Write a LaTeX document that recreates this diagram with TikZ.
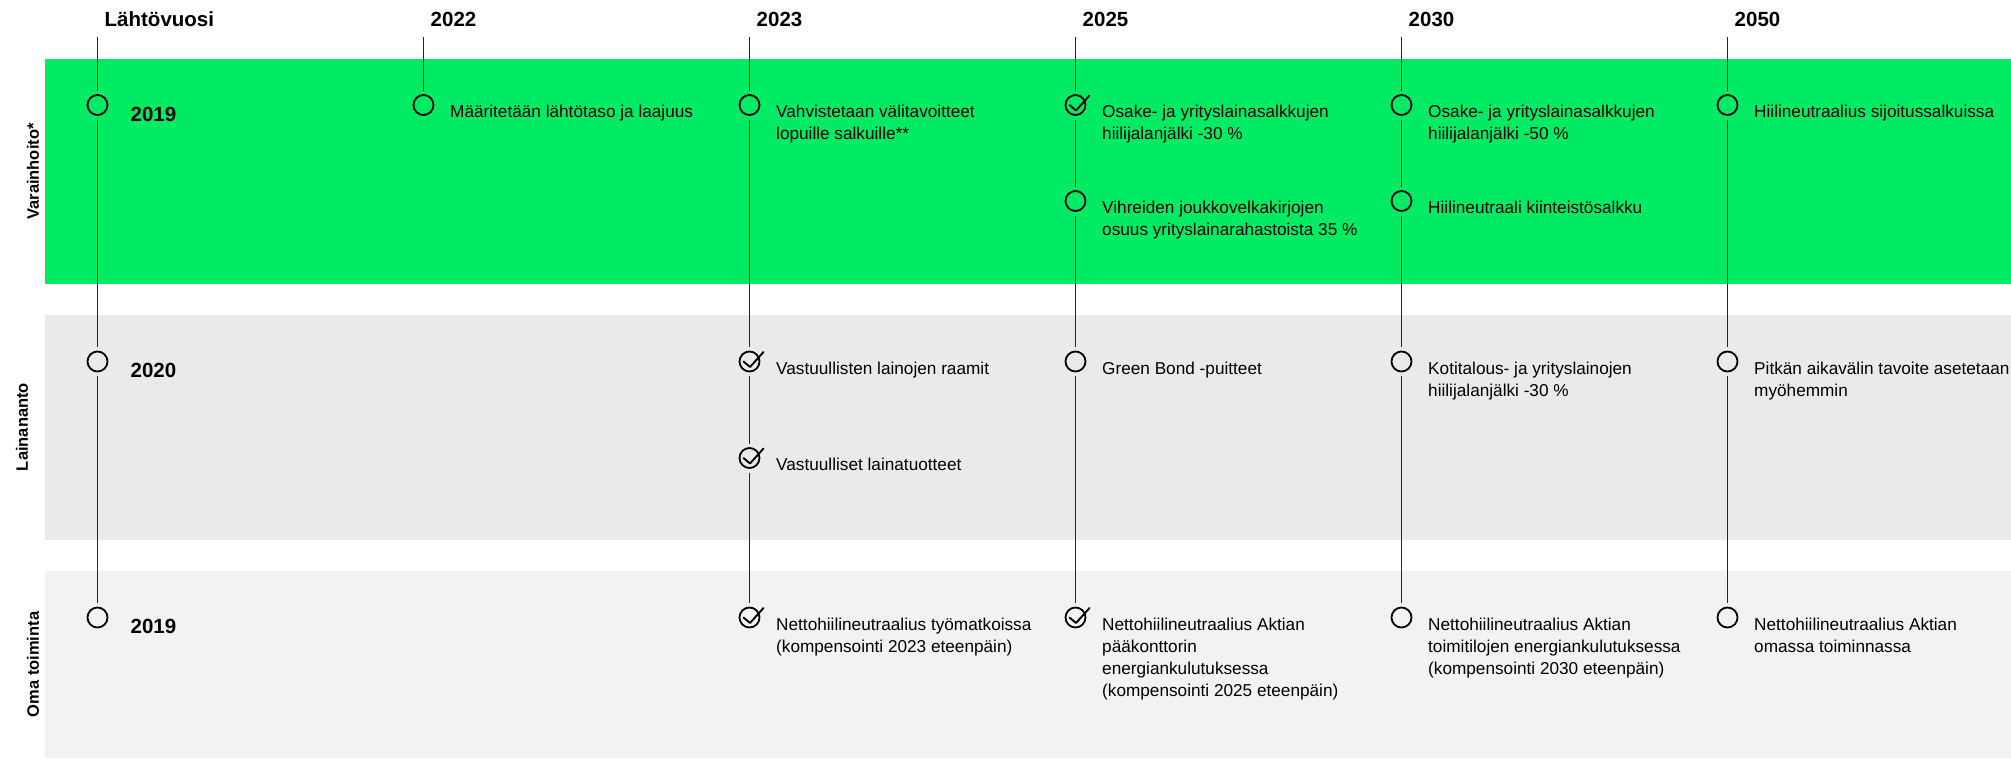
\documentclass[tikz,border=0pt]{standalone}
\usepackage{fontspec}
\setmainfont{Liberation Sans}
\usetikzlibrary{positioning}
\definecolor{varagreen}{RGB}{0,235,100}
\definecolor{lainagray}{RGB}{234,234,234}
\definecolor{omagray}{RGB}{242,242,242}
\newcommand{\goaltext}[1]{\begin{tabular}[t]{@{}l@{}}#1\end{tabular}}

\begin{document}
\begin{tikzpicture}[x=1pt,y=-1pt,
  dot/.style={circle,draw,line width=1.8pt,minimum size=20pt,inner sep=0pt,outer sep=4.5pt},
  tick/.style={line width=1.9pt,line cap=round,line join=round},
  link/.style={line width=1.2pt,black!85},
  txt/.style={anchor=base west,inner sep=0pt,font=\fontsize{17.2}{22}\selectfont},
  year/.style={anchor=base west,inner sep=0pt,font=\fontsize{20.5}{24}\selectfont\bfseries},
  side/.style={rotate=90,inner sep=0pt,font=\fontsize{16.5}{20}\selectfont\bfseries}]
  \useasboundingbox (0,0) rectangle (2011,758);
  % bands
  \fill[varagreen] (45,59) rectangle (2011,283.5);
  \fill[lainagray] (45,315) rectangle (2011,539.5);
  \fill[omagray] (45,571) rectangle (2011,758);
  \node[side] (sideV) at (33,171.5) {Varainhoito*};
  \node[side] (sideL) at (22,427) {Lainananto};
  \node[side] (sideO) at (33,664.5) {Oma toiminta};
  % column heads
  \foreach \x/\lbl [count=\i from 0] in {97.5/Lähtövuosi,423.5/2022,749.5/2023,
      1075.5/2025,1401.5/2030,1727.5/2050}{
    \coordinate (top\i) at (\x,37.3);
    \node[year] (head\i) at (\x+7,26.7) {\lbl};
  }
  % Lähtövuosi
  \node[dot] (a1) at (97.5,105) {};
  \node[dot] (a3) at (97.5,361.5) {};
  \node[dot] (a5) at (97.5,617.5) {};
  \node[year] (ta1) at ([shift={(33,16)}]a1.center) {2019};
  \node[year] (ta3) at ([shift={(33,16)}]a3.center) {2020};
  \node[year] (ta5) at ([shift={(33,16)}]a5.center) {2019};
  % 2022
  \node[dot] (b1) at (423.5,105) {};
  \node[txt] (tb1) at ([shift={(26.5,12.5)}]b1.center) {Määritetään lähtötaso ja laajuus};
  % 2023
  \node[dot] (c1) at (749.5,105) {};
  \node[dot] (c3) at (749.5,361.5) {};
  \node[dot] (c4) at (749.5,458) {};
  \node[dot] (c5) at (749.5,617.5) {};
  \node[txt] (tc1) at ([shift={(26.5,12.5)}]c1.center) {\goaltext{Vahvistetaan välitavoitteet\\lopuille salkuille**}};
  \node[txt] (tc3) at ([shift={(26.5,12.5)}]c3.center) {Vastuullisten lainojen raamit};
  \node[txt] (tc4) at ([shift={(26.5,12.5)}]c4.center) {Vastuulliset lainatuotteet};
  \node[txt] (tc5) at ([shift={(26.5,12.5)}]c5.center) {\goaltext{Nettohiilineutraalius työmatkoissa\\(kompensointi 2023 eteenpäin)}};
  % 2025
  \node[dot] (d1) at (1075.5,105) {};
  \node[dot] (d2) at (1075.5,201) {};
  \node[dot] (d3) at (1075.5,361.5) {};
  \node[dot] (d5) at (1075.5,617.5) {};
  \node[txt] (td1) at ([shift={(26.5,12.5)}]d1.center) {\goaltext{Osake- ja yrityslainasalkkujen\\hiilijalanjälki -30~\%}};
  \node[txt] (td2) at ([shift={(26.5,12.5)}]d2.center) {\goaltext{Vihreiden joukkovelkakirjojen\\osuus yrityslainarahastoista 35~\%}};
  \node[txt] (td3) at ([shift={(26.5,12.5)}]d3.center) {Green Bond -puitteet};
  \node[txt] (td5) at ([shift={(26.5,12.5)}]d5.center) {\goaltext{Nettohiilineutraalius Aktian\\pääkonttorin\\energiankulutuksessa\\(kompensointi 2025 eteenpäin)}};
  % 2030
  \node[dot] (e1) at (1401.5,105) {};
  \node[dot] (e2) at (1401.5,201) {};
  \node[dot] (e3) at (1401.5,361.5) {};
  \node[dot] (e5) at (1401.5,617.5) {};
  \node[txt] (te1) at ([shift={(26.5,12.5)}]e1.center) {\goaltext{Osake- ja yrityslainasalkkujen\\hiilijalanjälki -50~\%}};
  \node[txt] (te2) at ([shift={(26.5,12.5)}]e2.center) {Hiilineutraali kiinteistösalkku};
  \node[txt] (te3) at ([shift={(26.5,12.5)}]e3.center) {\goaltext{Kotitalous- ja yrityslainojen\\hiilijalanjälki -30~\%}};
  \node[txt] (te5) at ([shift={(26.5,12.5)}]e5.center) {\goaltext{Nettohiilineutraalius Aktian\\toimitilojen energiankulutuksessa\\(kompensointi 2030 eteenpäin)}};
  % 2050
  \node[dot] (f1) at (1727.5,105) {};
  \node[dot] (f3) at (1727.5,361.5) {};
  \node[dot] (f5) at (1727.5,617.5) {};
  \node[txt] (tf1) at ([shift={(26.5,12.5)}]f1.center) {Hiilineutraalius sijoitussalkuissa};
  \node[txt] (tf3) at ([shift={(26.5,12.5)}]f3.center) {\goaltext{Pitkän aikavälin tavoite asetetaan\\myöhemmin}};
  \node[txt] (tf5) at ([shift={(26.5,12.5)}]f5.center) {\goaltext{Nettohiilineutraalius Aktian\\omassa toiminnassa}};
  % timelines
  \draw[link] (top0) -- (a1) (a1) -- (a3) (a3) -- (a5);
  \draw[link] (top1) -- (b1);
  \draw[link] (top2) -- (c1) (c1) -- (c3) (c3) -- (c4) (c4) -- (c5);
  \draw[link] (top3) -- (d1) (d1) -- (d2) (d2) -- (d3) (d3) -- (d5);
  \draw[link] (top4) -- (e1) (e1) -- (e2) (e2) -- (e3) (e3) -- (e5);
  \draw[link] (top5) -- (f1) (f1) -- (f3) (f3) -- (f5);
  % done ticks
  \foreach \n in {c3,c4,c5,d1,d5}
    \draw[tick] ([shift={(-6,0)}]\n.center) -- ++(6.5,5.5) -- ++(13.5,-15);
\end{tikzpicture}
\end{document}
